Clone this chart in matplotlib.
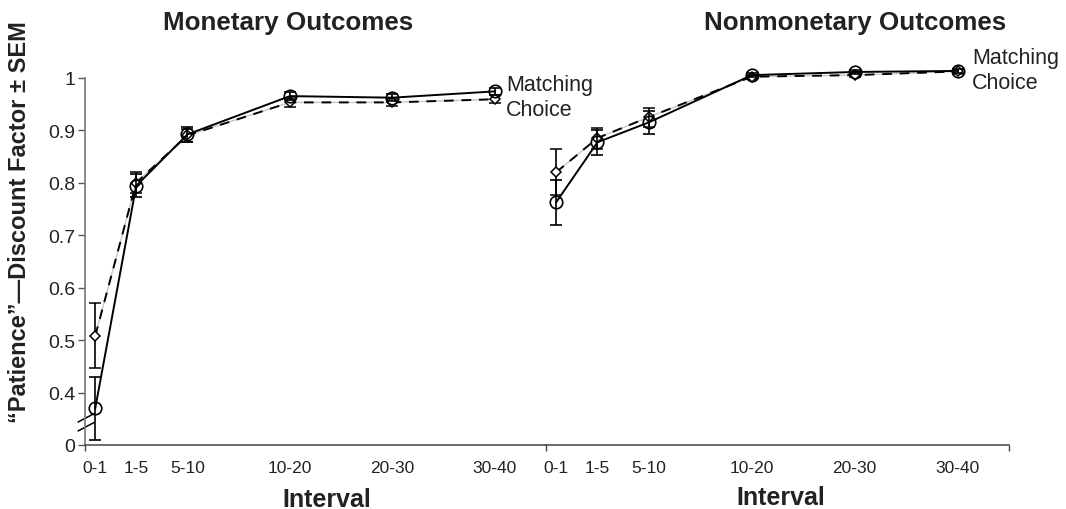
import numpy
import matplotlib
matplotlib.use('Agg')
import matplotlib.pyplot

matplotlib.pyplot.rcParams['font.family'] = ['Liberation Sans', 'DejaVu Sans']

# interval upper bounds are used as x positions
intervals = ['0-1', '1-5', '5-10', '10-20', '20-30', '30-40']
x_pos = [1, 5, 10, 20, 30, 40]

# Monetary outcomes
mon_matching = [0.37, 0.794, 0.892, 0.965, 0.962, 0.974]
mon_matching_sem = [0.06, 0.022, 0.015, 0.008, 0.007, 0.007]
mon_choice = [0.508, 0.80, 0.890, 0.953, 0.953, 0.959]
mon_choice_sem = [0.062, 0.02, 0.013, 0.009, 0.007, 0.008]

# Nonmonetary outcomes
non_matching = [0.763, 0.877, 0.915, 1.005, 1.011, 1.013]
non_matching_sem = [0.043, 0.024, 0.022, 0.004, 0.004, 0.004]
non_choice = [0.82, 0.885, 0.925, 1.002, 1.005, 1.012]
non_choice_sem = [0.044, 0.02, 0.018, 0.004, 0.004, 0.004]

y_ticks = [0.3, 0.4, 0.5, 0.6, 0.7, 0.8, 0.9, 1.0]
y_ticklabels = ['0', '0.4', '0.5', '0.6', '0.7', '0.8', '0.9', '1']


def draw_panel(ax, matching, matching_sem, choice, choice_sem, label_x, label_y):
  # choice: light grey line under black dashes
  ax.plot(x_pos, choice, color='#c8c8c8', linewidth=1.0, zorder=2)
  ax.errorbar(x_pos, choice, yerr=choice_sem, color='black', linestyle=(0, (5, 4)),
              linewidth=1.4, marker='D', markersize=5, markerfacecolor='white',
              markeredgecolor='black', markeredgewidth=1.1, capsize=4,
              elinewidth=1.2, capthick=1.2, zorder=3)
  ax.errorbar(x_pos, matching, yerr=matching_sem, color='black', linestyle='-',
              linewidth=1.4, marker='o', markersize=9, markerfacecolor='none',
              markeredgecolor='black', markeredgewidth=1.2, capsize=4,
              elinewidth=1.2, capthick=1.2, zorder=4)
  ax.set_xlim(0, 45)
  ax.set_ylim(0.3, 1.03)
  ax.set_xticks(x_pos)
  ax.set_xticklabels(intervals, fontsize=12.5, color='#222222')
  ax.tick_params(axis='x', length=0, pad=11)
  for side in ['top', 'right']:
    ax.spines[side].set_visible(False)
  ax.spines['bottom'].set_color('#444444')
  ax.spines['bottom'].set_linewidth(1.1)
  ax.patch.set_visible(False)
  ax.text(label_x, label_y, 'Matching', fontsize=15.5, color='#222222', va='center', zorder=10)
  ax.text(label_x, label_y - 0.048, 'Choice', fontsize=15.5, color='#222222', va='center', zorder=10)


def main():
  fig = matplotlib.pyplot.figure(figsize=(10.66, 5.10), dpi=100)
  ax1 = fig.add_axes([85 / 1066, 1 - 446 / 510, 461 / 1066, 383 / 510])
  ax2 = fig.add_axes([546 / 1066, 1 - 446 / 510, 463 / 1066, 383 / 510])

  draw_panel(ax1, mon_matching, mon_matching_sem, mon_choice, mon_choice_sem, 41.1, 0.988)
  draw_panel(ax2, non_matching, non_matching_sem, non_choice, non_choice_sem, 41.4, 1.039)

  # left y axis with break
  ax1.set_yticks(y_ticks)
  ax1.set_yticklabels(y_ticklabels, fontsize=14, color='#222222')
  ax1.tick_params(axis='y', length=5, width=1, color='#555555', pad=2)
  ax1.spines['left'].set_color('#777777')
  ax1.spines['left'].set_linewidth(1.2)
  ax1.spines['left'].set_bounds(0.3, 1.0)
  for yb in [0.344, 0.327]:
    ax1.plot([-0.65, 0.9], [yb, yb + 0.016], color='black', linewidth=1.1, clip_on=False)

  ax2.spines['left'].set_visible(False)
  ax2.set_yticks([])

  # boundary ticks on the bottom axis
  for ax, xs in [(ax1, [0]), (ax2, [0, 45])]:
    ax.set_xticks(xs, minor=True)
    ax.tick_params(axis='x', which='minor', length=4, width=1, color='#444444')

  fig.text(288 / 1066, 1 - 23 / 510, 'Monetary Outcomes', fontsize=18.7, fontweight='bold',
           ha='center', va='center', color='#222222')
  fig.text(855 / 1066, 1 - 23 / 510, 'Nonmonetary Outcomes', fontsize=18.7, fontweight='bold',
           ha='center', va='center', color='#222222')
  fig.text(327 / 1066, 1 - 500 / 510, 'Interval', fontsize=18, fontweight='bold',
           ha='center', va='center', color='#222222')
  fig.text(781 / 1066, 1 - 498 / 510, 'Interval', fontsize=18, fontweight='bold',
           ha='center', va='center', color='#222222')
  fig.text(20 / 1066, 1 - 222 / 510, '\u201cPatience\u201d\u2014Discount Factor \u00b1 SEM',
           fontsize=17, fontweight='bold', rotation=90, ha='center', va='center', color='#222222')

  matplotlib.pyplot.savefig('out.png', dpi=100)


if __name__ == "__main__":
  main()
